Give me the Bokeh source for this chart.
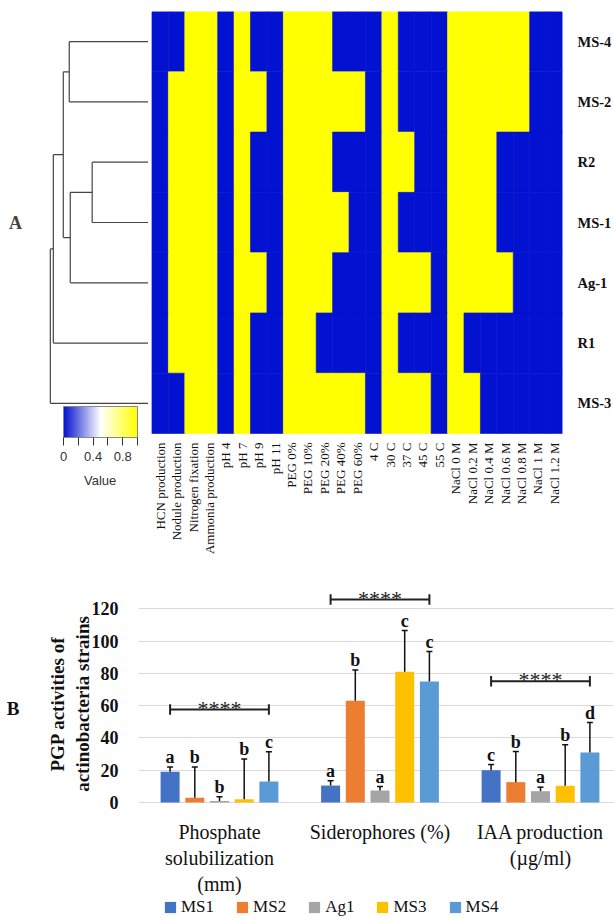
import numpy as np
from bokeh.plotting import figure
from bokeh.models import (ColumnDataSource, Range1d, LinearColorMapper, ColorBar, LinearAxis,
                          FixedTicker, Label, Legend, LegendItem, Whisker, TeeHead)
from bokeh.layouts import column, row
from bokeh.transform import transform
from bokeh.core.properties import value
from bokeh.embed import file_html
from bokeh.resources import INLINE

SERIF = "Liberation Serif"
SANS = "Liberation Sans"

# ---------------- heatmap data (panel A) ----------------
strains = ["MS-4", "MS-2", "R2", "MS-1", "Ag-1", "R1", "MS-3"]
traits = ["HCN production", "Nodule production", "Nitrogen fixation", "Ammonia production",
          "pH 4", "pH 7", "pH 9", "pH 11",
          "PEG 0%", "PEG 10%", "PEG 20%", "PEG 40%", "PEG 60%",
          "4 C", "30 C", "37 C", "45 C", "55 C",
          "NaCl 0 M", "NaCl 0.2 M", "NaCl 0.4 M", "NaCl 0.6 M", "NaCl 0.8 M", "NaCl 1 M", "NaCl 1.2 M"]
ms4_traits = [0, 0, 1, 1, 0, 1, 0, 0, 1, 1, 1, 0, 0, 0, 1, 0, 0, 0, 1, 1, 1, 1, 1, 0, 0]
ms2_traits = [0, 1, 1, 1, 0, 1, 1, 0, 1, 1, 1, 1, 1, 0, 1, 0, 0, 0, 1, 1, 1, 1, 1, 0, 0]
r2_traits = [0, 1, 1, 1, 0, 1, 0, 0, 1, 1, 1, 0, 0, 0, 1, 1, 0, 0, 1, 1, 1, 0, 0, 0, 0]
ms1_traits = [0, 1, 1, 1, 0, 1, 0, 0, 1, 1, 1, 1, 0, 0, 1, 0, 0, 0, 1, 1, 1, 0, 0, 0, 0]
ag1_traits = [0, 1, 1, 1, 0, 1, 1, 0, 1, 1, 1, 0, 0, 0, 1, 1, 1, 0, 1, 1, 1, 1, 0, 0, 0]
r1_traits = [0, 1, 1, 1, 0, 1, 0, 0, 1, 1, 0, 0, 0, 0, 1, 0, 0, 0, 1, 0, 0, 0, 0, 0, 0]
ms3_traits = [0, 0, 1, 1, 0, 1, 0, 0, 1, 1, 1, 1, 1, 0, 1, 1, 1, 0, 1, 1, 0, 0, 0, 0, 0]
heat_rows = [ms4_traits, ms2_traits, r2_traits, ms1_traits, ag1_traits, r1_traits, ms3_traits]

# dendrogram (merge i joins merge_a[i] and merge_b[i] at height merge_h[i]; "cK" = cluster of merge K)
merge_a = ["MS-4", "R2", "c1", "c0", "c3", "c4"]
merge_b = ["MS-2", "MS-1", "Ag-1", "c2", "R1", "MS-3"]
merge_h = [0.79, 0.56, 0.78, 0.85, 0.95, 0.98]

# ---------------- bar data (panel B) ----------------
groups = ["Phosphate\nsolubilization\n(mm)", "Siderophores (%)", "IAA production\n(\u00b5g/ml)"]
series_names = ["MS1", "MS2", "Ag1", "MS3", "MS4"]
MS1_mean = [19.0, 10.5, 20.0]
MS2_mean = [3.0, 63.0, 12.6]
Ag1_mean = [1.0, 7.4, 7.0]
MS3_mean = [2.0, 81.0, 10.3]
MS4_mean = [13.0, 75.0, 31.0]
MS1_sd = [3.0, 3.0, 3.5]
MS2_sd = [19.0, 19.0, 19.0]
Ag1_sd = [2.5, 2.5, 2.5]
MS3_sd = [25.0, 25.5, 25.5]
MS4_sd = [18.5, 18.5, 18.5]
MS1_letter = ["a", "a", "c"]
MS2_letter = ["b", "b", "b"]
Ag1_letter = ["b", "a", "a"]
MS3_letter = ["b", "c", "b"]
MS4_letter = ["c", "c", "d"]
bracket_y = [57.6, 125.7, 75.1]
bracket_text = ["****", "****", "****"]
y_ticks = [0, 20, 40, 60, 80, 100, 120]
y_title = "PGP activities of\nactinobacteria strains"
bar_colors = ["#4472C4", "#ED7D31", "#A5A5A5", "#FFC000", "#5B9BD5"]

means = [MS1_mean, MS2_mean, Ag1_mean, MS3_mean, MS4_mean]
sds = [MS1_sd, MS2_sd, Ag1_sd, MS3_sd, MS4_sd]
letters = [MS1_letter, MS2_letter, Ag1_letter, MS3_letter, MS4_letter]

# ---------------- colour ramp ----------------
def ramp(n=256):
    stops = [(0.0, (3, 17, 208)), (0.5, (255, 255, 255)), (1.0, (255, 255, 0))]
    out = []
    for i in range(n):
        t = i / (n - 1)
        for (t0, c0), (t1, c1) in zip(stops[:-1], stops[1:]):
            if t0 <= t <= t1:
                f = (t - t0) / (t1 - t0)
                c = [round(a + (b - a) * f) for a, b in zip(c0, c1)]
                out.append("#%02x%02x%02x" % tuple(c))
                break
    return out

mapper = LinearColorMapper(palette=ramp(), low=0, high=1)

# ---------------- top figure: dendrogram + heatmap ----------------
H1 = 575
TOP = 11
row_px = 422 / 7.0
col_px = 412 / 25.0
frame_w = 614 - 50
y_bottom = 0.5 - (H1 - TOP) / row_px
x_start = -152 / col_px
top = figure(width=614, height=H1, x_range=Range1d(x_start, x_start + frame_w / col_px),
             y_range=Range1d(y_bottom, 0.5), y_axis_location="right", x_axis_location=None,
             toolbar_location=None, output_backend="svg",
             min_border_left=0, min_border_right=50, min_border_top=TOP, min_border_bottom=0)
top.extra_x_ranges = {"dendro": Range1d(1.48, (148 - frame_w) / 100.0)}
top.grid.grid_line_color = None
top.outline_line_color = None

xs, ys, vs = [], [], []
for i, r in enumerate(heat_rows):
    for c, v in enumerate(r):
        xs.append(c + 0.5); ys.append(-i); vs.append(v)
hsrc = ColumnDataSource(dict(x=xs, y=ys, val=vs))
top.rect(x="x", y="y", width=1, height=1, source=hsrc,
         fill_color=transform("val", mapper), line_color=transform("val", mapper), line_width=0.6)

top.text(x=[c + 0.5 for c in range(len(traits))], y=[-6.5 - 9 / row_px] * len(traits), text=traits,
         angle=np.pi / 2, text_align="right", text_baseline="middle", text_font=value(SERIF),
         text_font_size="13px", text_color="#111111")

top.yaxis.ticker = FixedTicker(ticks=[-i for i in range(len(strains))])
top.yaxis.major_label_overrides = {-i: s for i, s in enumerate(strains)}
top.yaxis.axis_line_color = None
top.yaxis.major_tick_line_color = None
top.yaxis.minor_tick_line_color = None
top.yaxis.major_tick_out = 0
top.yaxis.minor_tick_out = 0
top.yaxis.major_label_standoff = 15
top.yaxis.major_label_text_font = SERIF
top.yaxis.major_label_text_font_style = "bold"
top.yaxis.major_label_text_font_size = "14.5px"
top.yaxis.major_label_text_color = "#111111"

pos = {s: (-i, 0.0) for i, s in enumerate(strains)}
x0s, x1s, y0s, y1s = [], [], [], []
for k, (a, b, h) in enumerate(zip(merge_a, merge_b, merge_h)):
    ya, ha = pos[a]
    yb, hb = pos[b]
    x0s += [ha, hb, h]; x1s += [h, h, h]
    y0s += [ya, yb, ya]; y1s += [ya, yb, yb]
    pos["c%d" % k] = ((ya + yb) / 2.0, h)
top.segment(x0=x0s, y0=y0s, x1=x1s, y1=y1s, line_color="#444444", line_width=1.2,
            x_range_name="dendro")
top.add_layout(Label(x=1.33, y=-3.0, x_range_name="dendro", text="A", text_font=SERIF,
                     text_font_style="bold", text_font_size="18px", text_align="center",
                     text_baseline="middle"))
cb = ColorBar(color_mapper=mapper, orientation="horizontal", width=74, height=31,
              location=(63, 112), padding=0, margin=0,
              ticker=FixedTicker(ticks=[0, 0.4, 0.8], minor_ticks=[0.2, 0.6, 1.0]),
              major_tick_in=0, major_tick_out=8, minor_tick_in=0, minor_tick_out=8,
              major_tick_line_color="#333333", minor_tick_line_color="#333333",
              bar_line_color="#888888", label_standoff=6,
              major_label_text_font=SANS, major_label_text_font_size="13px",
              major_label_text_color="#333333",
              background_fill_alpha=0, border_line_color=None)
top.add_layout(cb)
top.add_layout(Label(x=0.48, y=0.5 - (480 - TOP) / row_px, x_range_name="dendro", text="Value",
                     text_font=SANS, text_font_size="13px", text_color="#333333",
                     text_align="center", text_baseline="middle"))

# ---------------- bar figure ----------------
px_unit = 1.615
BAR_LEFT = 138
BAR_TOP = 580
ZERO_Y = 802
H2 = 918 - H1
g_px = 160.5
bx_start = -(219 - BAR_LEFT) / g_px
y_end = (ZERO_Y - BAR_TOP) / px_unit
y_start = y_end - (918 - BAR_TOP) / px_unit
bp = figure(width=614, height=H2, x_range=Range1d(bx_start, bx_start + (614 - BAR_LEFT) / g_px),
            y_range=Range1d(y_start, y_end), x_axis_location=None,
            toolbar_location=None, output_backend="svg",
            min_border_left=BAR_LEFT, min_border_right=0, min_border_top=BAR_TOP - H1,
            min_border_bottom=0)
bp.outline_line_color = None
bp.xgrid.grid_line_color = None
bp.ygrid.grid_line_color = "#d9d9d9"
bp.ygrid.ticker = FixedTicker(ticks=y_ticks)
bp.yaxis.ticker = FixedTicker(ticks=y_ticks)
bp.yaxis.axis_line_color = None
bp.yaxis.major_tick_line_color = None
bp.yaxis.minor_tick_line_color = None
bp.yaxis.major_tick_out = 0
bp.yaxis.minor_tick_out = 0
bp.yaxis.major_label_standoff = 20
bp.yaxis.major_label_text_font = SERIF
bp.yaxis.major_label_text_font_style = "bold"
bp.yaxis.major_label_text_font_size = "18px"
bp.yaxis.major_label_text_color = "#111111"

title_axis = LinearAxis(ticker=FixedTicker(ticks=[61]), major_label_overrides={61: y_title},
                        major_label_orientation="parallel",
                        axis_line_color=None, major_tick_line_color=None, minor_tick_line_color=None,
                        major_tick_out=0, minor_tick_out=0, major_label_standoff=-5,
                        major_label_text_font=SERIF, major_label_text_font_style="bold",
                        major_label_text_font_size="19px", major_label_text_color="#111111")
bp.add_layout(title_axis, "left")
b_axis = LinearAxis(ticker=FixedTicker(ticks=[58]), major_label_overrides={58: "B"},
                    axis_line_color=None, major_tick_line_color=None, minor_tick_line_color=None,
                    major_tick_out=0, minor_tick_out=0, major_label_standoff=25,
                    major_label_text_font=SERIF, major_label_text_font_style="bold",
                    major_label_text_font_size="19px", major_label_text_color="#111111")
bp.add_layout(b_axis, "left")

step = 24.7 / g_px
bw = 19.0 / g_px
items = []
for j, name in enumerate(series_names):
    xj = [g + (j - 2) * step for g in range(len(groups))]
    topv = [m + s for m, s in zip(means[j], sds[j])]
    src = ColumnDataSource(dict(x=xj, m=means[j], up=topv, lab=letters[j],
                                ly=[t + 6 for t in topv]))
    r = bp.vbar(x="x", top="m", bottom=0, width=bw, source=src, fill_color=bar_colors[j],
                line_color=None)
    items.append(LegendItem(label=name, renderers=[r]))
    w = Whisker(base="x", upper="up", lower="m", source=src, dimension="height",
                line_color="#111111", line_width=1.5,
                upper_head=TeeHead(size=6, line_color="#111111", line_width=1.5), lower_head=None)
    w.level = "overlay"
    bp.add_layout(w)
    bp.text(x="x", y="ly", text="lab", source=src, text_font=value(SERIF), text_font_style="bold",
            text_font_size="18px", text_align="center", text_baseline="alphabetic", text_color="#111111")

gx = list(range(len(groups)))
bx0 = [g - 2 * step for g in gx]
bx1 = [g + 2 * step for g in gx]
tick_h = 3.3
bp.segment(x0=bx0, x1=bx1, y0=bracket_y, y1=bracket_y, line_color="#222222", line_width=2)
bp.segment(x0=bx0 + bx1, x1=bx0 + bx1,
           y0=[b - tick_h for b in bracket_y] * 2, y1=[b + tick_h for b in bracket_y] * 2,
           line_color="#222222", line_width=2)
bp.text(x=gx, y=[b + 0.8 for b in bracket_y], text=bracket_text, text_font=value(SERIF),
        text_font_size="22px", text_align="center", text_baseline="alphabetic", text_color="#222222")

# category names under the groups
bp.text(x=gx, y=[-(820 - ZERO_Y) / px_unit] * len(gx), text=groups, text_font=value(SERIF),
        text_font_size="20px", text_align="center", text_baseline="top", text_line_height=1.2,
        text_color="#111111")

legend = Legend(items=items, orientation="horizontal", location=(25, 1),
                glyph_width=14, glyph_height=14, label_text_font=SERIF, label_text_font_size="17px",
                label_text_color="#111111", spacing=21, padding=0, margin=0, label_standoff=4,
                label_height=18, border_line_color=None, background_fill_alpha=0)
bp.add_layout(legend)

layout = column(row(top), row(bp))
open("out.html", "w").write(file_html(layout, INLINE))
